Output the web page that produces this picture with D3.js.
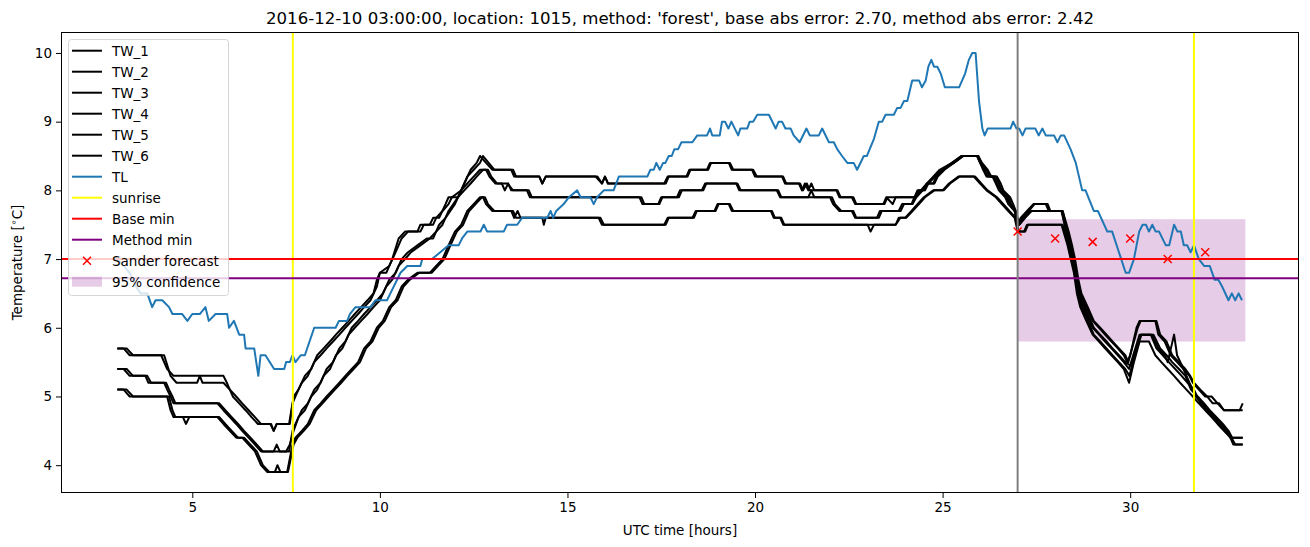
<!DOCTYPE html>
<html><head><meta charset="utf-8">
<script src="https://cdn.jsdelivr.net/npm/d3@7"></script>
<style>body{margin:0;background:#fff} text{font-family:"DejaVu Sans",sans-serif;fill:#000}</style>
</head><body><svg id="c" width="1310" height="547"></svg>
<script>
// ---------------- data (hours since 2016-12-09 00:00 UTC, temperature °C) ----------------
const titleText = "2016-12-10 03:00:00, location: 1015, method: 'forest', base abs error: 2.70, method abs error: 2.42";
const xTicks = [5, 10, 15, 20, 25, 30];
const yTicks = [4, 5, 6, 7, 8, 9, 10];

const TW_1 = [[3,5.7],[3.17,5.7],[3.33,5.6],[4.17,5.6],[4.33,5.4],[4.5,5.3],[5.83,5.3],[5.92,5.2],[6.0,5.1],[6.17,5.0],[6.33,4.9],[6.5,4.8],[6.67,4.7],[6.83,4.6],[7.08,4.6],[7.17,4.5],[7.25,4.6],[7.58,4.6],[7.67,4.9],[7.75,5.0],[7.83,5.1],[8.0,5.3],[8.17,5.4],[8.33,5.6],[8.5,5.7],[8.67,5.8],[8.83,5.9],[9.0,6.0],[9.17,6.1],[9.33,6.2],[9.5,6.3],[9.67,6.4],[9.83,6.5],[9.92,6.7],[10.0,6.8],[10.17,6.8],[10.33,7.0],[10.5,7.3],[10.67,7.4],[11.0,7.4],[11.08,7.5],[11.33,7.5],[11.42,7.6],[11.58,7.6],[11.75,7.8],[11.83,7.9],[12.08,7.9],[12.25,8.1],[12.42,8.3],[12.58,8.4],[12.67,8.5],[12.83,8.4],[13.0,8.3],[13.5,8.3],[13.58,8.2],[14.25,8.2],[14.33,8.1],[14.42,8.2],[15.75,8.2],[15.92,8.1],[16.0,8.2],[16.08,8.1],[17.58,8.1],[17.67,8.2],[18.17,8.2],[18.25,8.3],[18.75,8.3],[18.83,8.4],[19.33,8.4],[19.42,8.3],[19.92,8.3],[20.0,8.2],[20.75,8.2],[20.83,8.1],[21.17,8.1],[21.25,8.0],[21.33,8.1],[21.42,8.0],[21.5,8.1],[21.58,8.0],[22.17,8.0],[22.25,7.9],[22.58,7.9],[22.67,7.8],[23.42,7.8],[23.5,7.9],[23.67,7.8],[23.75,7.9],[24.25,7.9],[24.33,8.0],[24.5,8.0],[24.58,8.1],[24.75,8.1],[24.83,8.2],[25.0,8.3],[25.25,8.4],[25.5,8.5],[25.92,8.5],[26.0,8.4],[26.08,8.3],[26.17,8.2],[26.33,8.2],[26.42,8.1],[26.5,8.0],[26.67,7.9],[26.75,7.8],[26.92,7.7],[27.0,7.5],[27.08,7.6],[27.25,7.7],[27.42,7.8],[27.75,7.8],[27.83,7.7],[28.17,7.7],[28.33,7.4],[28.42,7.2],[28.5,7.0],[28.58,6.7],[28.67,6.5],[28.83,6.3],[29.0,6.1],[29.17,6.0],[29.33,5.9],[29.5,5.8],[29.67,5.7],[29.83,5.6],[29.92,5.5],[30.0,5.6],[30.17,6.0],[30.25,6.1],[30.67,6.1],[30.75,5.9],[30.92,5.8],[31.08,5.6],[31.25,5.5],[31.42,5.4],[31.58,5.3],[31.67,5.2],[31.83,5.1],[32.0,5.0],[32.17,5.0],[32.33,4.9],[32.5,4.8],[32.92,4.8],[33.0,4.9]];

const TW_2 = [[3,5.7],[3.25,5.7],[3.42,5.6],[4.25,5.6],[4.42,5.3],[4.58,5.2],[5.13,5.2],[5.2,5.3],[5.27,5.2],[5.83,5.2],[6.0,5.1],[6.08,5.0],[6.25,4.9],[6.42,4.8],[6.58,4.7],[6.75,4.6],[7.1,4.6],[7.17,4.5],[7.25,4.6],[7.6,4.6],[7.7,5.0],[7.83,5.1],[7.92,5.2],[8.08,5.3],[8.25,5.5],[8.42,5.6],[8.58,5.7],[8.75,5.8],[8.92,5.9],[9.08,6.0],[9.25,6.1],[9.42,6.2],[9.58,6.3],[9.75,6.4],[9.92,6.6],[10.0,6.8],[10.25,6.9],[10.42,7.1],[10.58,7.3],[10.75,7.4],[11.08,7.4],[11.17,7.5],[11.42,7.5],[11.5,7.6],[11.67,7.7],[11.83,7.8],[11.92,7.9],[12.17,8.0],[12.33,8.2],[12.5,8.3],[12.67,8.4],[12.75,8.5],[12.9,8.4],[13.05,8.3],[13.55,8.3],[13.63,8.2],[14.25,8.2],[14.33,8.1],[14.42,8.2],[15.8,8.2],[15.92,8.1],[16.0,8.2],[16.08,8.1],[17.62,8.1],[17.7,8.2],[18.2,8.2],[18.28,8.3],[18.72,8.3],[18.8,8.4],[19.3,8.4],[19.38,8.3],[19.95,8.3],[20.05,8.2],[20.72,8.2],[20.8,8.1],[21.2,8.1],[21.28,8.0],[21.38,8.1],[21.46,8.0],[22.2,8.0],[22.28,7.9],[22.62,7.9],[22.7,7.8],[23.45,7.8],[23.53,7.9],[24.28,7.9],[24.37,8.0],[24.53,8.0],[24.62,8.1],[24.78,8.1],[24.87,8.2],[25.05,8.3],[25.3,8.4],[25.55,8.5],[25.95,8.5],[26.03,8.4],[26.12,8.3],[26.2,8.2],[26.37,8.2],[26.45,8.1],[26.55,8.0],[26.7,7.9],[26.8,7.8],[26.95,7.7],[27.03,7.5],[27.12,7.6],[27.3,7.7],[27.45,7.8],[27.8,7.8],[27.87,7.7],[28.2,7.7],[28.36,7.4],[28.45,7.2],[28.53,7.0],[28.62,6.7],[28.7,6.5],[28.87,6.3],[29.03,6.1],[29.2,6.0],[29.37,5.9],[29.53,5.8],[29.7,5.7],[29.87,5.6],[29.95,5.5],[30.05,5.7],[30.2,6.0],[30.28,6.1],[30.7,6.1],[30.8,5.9],[30.97,5.8],[31.12,5.6],[31.3,5.5],[31.47,5.4],[31.6,5.3],[31.7,5.2],[31.87,5.1],[32.05,5.0],[32.2,4.9],[32.37,4.9],[32.5,4.8],[33.0,4.8]];

const TW_3 = [[3,5.4],[3.17,5.4],[3.33,5.3],[3.75,5.3],[3.83,5.2],[4.25,5.2],[4.33,5.1],[4.42,5.0],[4.5,4.9],[5.67,4.9],[5.83,4.8],[6.0,4.7],[6.17,4.6],[6.33,4.5],[6.5,4.4],[6.67,4.3],[6.83,4.2],[7.17,4.2],[7.25,4.3],[7.33,4.2],[7.58,4.2],[7.67,4.5],[7.75,4.6],[7.92,4.8],[8.08,4.9],[8.25,5.1],[8.42,5.2],[8.58,5.4],[8.75,5.5],[8.92,5.7],[9.08,5.8],[9.25,6.0],[9.42,6.1],[9.58,6.2],[9.75,6.3],[9.92,6.4],[10.08,6.5],[10.25,6.7],[10.42,6.8],[10.58,7.0],[10.75,7.1],[11.0,7.2],[11.25,7.3],[11.42,7.3],[11.58,7.5],[11.75,7.6],[12.0,7.8],[12.17,8.0],[12.33,8.1],[12.5,8.2],[12.67,8.3],[12.83,8.3],[12.92,8.2],[13.08,8.1],[13.25,8.1],[13.33,8.0],[13.42,8.1],[13.5,8.0],[13.92,8.0],[14.0,7.9],[16.92,7.9],[17.0,7.8],[17.42,7.8],[17.5,7.9],[17.92,7.9],[18.0,8.0],[18.58,8.0],[18.67,8.1],[19.5,8.1],[19.58,8.0],[20.58,8.0],[20.67,7.9],[21.42,7.9],[21.5,8.0],[21.58,7.9],[22.0,7.9],[22.08,7.8],[22.25,7.7],[22.58,7.7],[22.67,7.6],[23.25,7.6],[23.33,7.7],[23.83,7.7],[23.92,7.8],[24.17,7.8],[24.25,7.9],[24.42,8.0],[24.58,8.1],[24.75,8.2],[24.92,8.3],[25.25,8.4],[25.5,8.5],[25.92,8.5],[26.0,8.4],[26.17,8.3],[26.25,8.2],[26.42,8.2],[26.5,8.1],[26.58,8.0],[26.75,7.9],[26.83,7.8],[26.92,7.7],[27.0,7.5],[27.17,7.6],[27.33,7.7],[28.17,7.7],[28.33,7.3],[28.5,6.9],[28.58,6.6],[28.67,6.4],[28.83,6.2],[29.0,6.0],[29.17,5.9],[29.33,5.8],[29.5,5.7],[29.67,5.6],[29.83,5.5],[29.97,5.4],[30.08,5.6],[30.25,5.9],[30.58,5.9],[30.75,5.7],[30.92,5.6],[31.0,5.5],[31.17,5.9],[31.25,5.6],[31.42,5.4],[31.58,5.2],[31.75,5.0],[31.92,4.9],[32.08,4.8],[32.25,4.7],[32.42,4.6],[32.58,4.5],[32.67,4.4],[33.0,4.4]];

const TW_4 = [[3,5.4],[3.25,5.4],[3.42,5.3],[3.8,5.3],[3.9,5.2],[4.3,5.2],[4.38,5.1],[4.47,5.0],[4.55,4.9],[5.72,4.9],[5.88,4.8],[6.05,4.7],[6.22,4.6],[6.38,4.5],[6.55,4.4],[6.72,4.3],[6.88,4.2],[7.5,4.2],[7.6,4.3],[7.7,4.5],[7.83,4.7],[8.0,4.8],[8.17,5.0],[8.33,5.1],[8.5,5.3],[8.67,5.4],[8.83,5.6],[9.0,5.7],[9.17,5.9],[9.33,6.0],[9.5,6.1],[9.67,6.2],[9.83,6.3],[10.0,6.4],[10.17,6.6],[10.33,6.7],[10.5,6.9],[10.67,7.0],[10.83,7.1],[11.08,7.2],[11.33,7.3],[11.5,7.4],[11.67,7.5],[11.83,7.7],[12.08,7.9],[12.25,8.0],[12.42,8.1],[12.58,8.2],[12.75,8.3],[12.88,8.3],[12.97,8.2],[13.12,8.1],[13.4,8.1],[13.55,8.0],[13.97,8.0],[14.05,7.9],[16.97,7.9],[17.05,7.8],[17.45,7.8],[17.53,7.9],[17.97,7.9],[18.05,8.0],[18.62,8.0],[18.7,8.1],[19.53,8.1],[19.62,8.0],[20.62,8.0],[20.7,7.9],[22.05,7.9],[22.13,7.8],[22.3,7.7],[22.62,7.7],[22.7,7.6],[23.3,7.6],[23.38,7.7],[23.88,7.7],[23.97,7.8],[24.2,7.8],[24.3,7.9],[24.47,8.0],[24.62,8.1],[24.8,8.2],[24.97,8.3],[25.3,8.4],[25.55,8.5],[25.95,8.5],[26.05,8.4],[26.2,8.3],[26.3,8.2],[26.45,8.2],[26.55,8.1],[26.62,8.0],[26.8,7.9],[26.88,7.8],[26.95,7.7],[27.05,7.5],[27.2,7.6],[27.37,7.7],[28.2,7.7],[28.37,7.3],[28.53,6.9],[28.62,6.6],[28.7,6.4],[28.87,6.2],[29.03,6.0],[29.2,5.9],[29.37,5.8],[29.53,5.7],[29.7,5.6],[29.87,5.5],[30.0,5.45],[30.12,5.6],[30.3,5.9],[30.62,5.9],[30.8,5.7],[30.97,5.6],[31.12,5.5],[31.3,5.4],[31.47,5.3],[31.62,5.1],[31.8,5.0],[31.97,4.9],[32.12,4.8],[32.3,4.7],[32.47,4.6],[32.62,4.5],[32.72,4.4],[33.0,4.4]];

const TW_5 = [[3,5.1],[3.17,5.1],[3.33,5.0],[4.33,5.0],[4.42,4.8],[4.5,4.7],[4.75,4.7],[4.83,4.6],[4.92,4.7],[5.67,4.7],[5.83,4.6],[6.0,4.5],[6.17,4.4],[6.33,4.4],[6.5,4.3],[6.67,4.2],[6.83,4.0],[7.0,3.9],[7.53,3.9],[7.67,4.3],[7.75,4.4],[7.92,4.5],[8.08,4.6],[8.25,4.8],[8.42,4.9],[8.58,5.0],[8.75,5.1],[8.92,5.2],[9.08,5.3],[9.25,5.4],[9.42,5.5],[9.58,5.7],[9.75,5.8],[9.92,6.0],[10.08,6.1],[10.25,6.3],[10.42,6.4],[10.58,6.6],[10.75,6.7],[11.0,6.8],[11.33,6.8],[11.5,6.9],[11.67,7.0],[11.83,7.2],[12.0,7.4],[12.17,7.5],[12.33,7.7],[12.5,7.8],[12.67,7.9],[12.75,7.9],[12.83,7.8],[13.0,7.7],[13.5,7.7],[13.58,7.6],[13.67,7.7],[13.75,7.6],[14.33,7.6],[14.37,7.5],[14.42,7.6],[15.83,7.6],[15.92,7.5],[17.58,7.5],[17.67,7.6],[18.33,7.6],[18.42,7.7],[18.92,7.7],[19.0,7.8],[19.33,7.8],[19.42,7.7],[20.42,7.7],[20.5,7.6],[20.67,7.6],[20.75,7.5],[23.0,7.5],[23.08,7.4],[23.17,7.5],[23.75,7.5],[23.83,7.6],[24.0,7.6],[24.17,7.7],[24.33,7.8],[24.5,7.9],[24.75,8.0],[25.0,8.0],[25.17,8.1],[25.42,8.2],[25.83,8.2],[26.0,8.1],[26.17,8.0],[26.42,7.9],[26.58,7.8],[26.75,7.7],[26.92,7.6],[27.0,7.4],[27.17,7.4],[27.25,7.5],[28.17,7.5],[28.33,7.2],[28.5,6.8],[28.58,6.5],[28.67,6.3],[28.83,6.1],[29.0,5.9],[29.17,5.8],[29.33,5.7],[29.5,5.6],[29.67,5.5],[29.83,5.4],[29.97,5.2],[30.1,5.5],[30.25,5.8],[30.5,5.8],[30.67,5.6],[30.83,5.5],[31.0,5.4],[31.17,5.3],[31.33,5.2],[31.5,5.1],[31.67,5.0],[31.83,4.9],[32.0,4.8],[32.17,4.7],[32.33,4.6],[32.5,4.5],[32.67,4.4],[32.75,4.3],[33.0,4.3]];

const TW_6 = [[3,5.1],[3.25,5.1],[3.42,5.0],[4.38,5.0],[4.47,4.8],[4.55,4.7],[5.72,4.7],[5.88,4.6],[6.05,4.5],[6.22,4.4],[6.38,4.4],[6.55,4.3],[6.72,4.2],[6.88,4.0],[7.05,3.9],[7.2,3.9],[7.27,4.0],[7.35,3.9],[7.55,3.9],[7.7,4.3],[7.8,4.4],[7.97,4.5],[8.13,4.6],[8.3,4.8],[8.47,4.9],[8.63,5.0],[8.8,5.1],[8.97,5.2],[9.13,5.3],[9.3,5.4],[9.47,5.5],[9.63,5.7],[9.8,5.8],[9.97,6.0],[10.13,6.1],[10.3,6.3],[10.47,6.4],[10.63,6.6],[10.8,6.7],[11.05,6.8],[11.38,6.8],[11.55,6.9],[11.72,7.0],[11.88,7.2],[12.05,7.4],[12.22,7.5],[12.38,7.7],[12.55,7.8],[12.72,7.9],[12.8,7.9],[12.88,7.8],[13.05,7.7],[13.55,7.7],[13.63,7.6],[15.88,7.6],[15.97,7.5],[17.62,7.5],[17.7,7.6],[18.37,7.6],[18.45,7.7],[18.95,7.7],[19.03,7.8],[19.3,7.8],[19.38,7.7],[20.45,7.7],[20.53,7.6],[20.7,7.6],[20.78,7.5],[23.75,7.5],[23.87,7.6],[24.03,7.6],[24.2,7.7],[24.37,7.8],[24.53,7.9],[24.78,8.0],[25.03,8.0],[25.2,8.1],[25.45,8.2],[25.87,8.2],[26.03,8.1],[26.2,8.0],[26.45,7.9],[26.62,7.8],[26.78,7.7],[26.95,7.6],[27.03,7.4],[27.2,7.4],[27.28,7.5],[28.2,7.5],[28.37,7.2],[28.53,6.8],[28.62,6.5],[28.7,6.3],[28.87,6.1],[29.03,5.9],[29.2,5.8],[29.37,5.7],[29.53,5.6],[29.7,5.5],[29.87,5.4],[29.98,5.3],[30.12,5.6],[30.28,5.9],[30.55,5.9],[30.7,5.7],[30.87,5.6],[31.03,5.5],[31.2,5.4],[31.37,5.3],[31.53,5.2],[31.7,5.1],[31.87,4.9],[32.03,4.8],[32.2,4.7],[32.37,4.6],[32.53,4.5],[32.7,4.4],[32.8,4.3],[33.0,4.3]];

const TL = [[3.0,7.0],[3.17,6.9],[3.33,6.8],[3.5,6.6],[3.62,6.5],[3.8,6.5],[3.93,6.3],[4.02,6.4],[4.2,6.4],[4.38,6.3],[4.47,6.2],[4.73,6.2],[4.87,6.1],[5.0,6.2],[5.2,6.2],[5.35,6.3],[5.44,6.1],[5.62,6.2],[5.93,6.2],[5.98,6.0],[6.11,6.1],[6.25,5.9],[6.38,5.9],[6.42,5.7],[6.65,5.7],[6.76,5.3],[6.82,5.6],[6.95,5.6],[7.18,5.4],[7.45,5.4],[7.5,5.5],[7.6,5.5],[7.67,5.6],[7.75,5.5],[7.89,5.6],[8.0,5.6],[8.25,6.0],[8.82,6.0],[8.91,6.1],[9.13,6.1],[9.2,6.2],[9.35,6.3],[9.75,6.3],[9.88,6.4],[10.19,6.4],[10.28,6.5],[10.55,6.8],[10.73,6.9],[11.08,6.9],[11.13,7.0],[11.39,7.0],[11.61,7.1],[11.83,7.2],[12.1,7.2],[12.19,7.3],[12.33,7.4],[12.68,7.4],[12.77,7.5],[12.86,7.4],[13.3,7.4],[13.39,7.5],[13.66,7.5],[13.79,7.6],[14.46,7.6],[14.55,7.7],[14.62,7.6],[14.7,7.7],[14.9,7.8],[15.04,7.9],[15.26,8.0],[15.35,7.9],[15.61,7.9],[15.7,7.8],[15.79,7.9],[15.97,8.0],[16.23,8.0],[16.37,8.2],[17.13,8.2],[17.21,8.3],[17.3,8.3],[17.37,8.4],[17.46,8.3],[17.55,8.4],[17.61,8.4],[17.7,8.5],[17.78,8.5],[17.85,8.6],[17.95,8.6],[18.04,8.7],[18.33,8.7],[18.46,8.8],[18.72,8.8],[18.8,8.9],[18.86,8.8],[19.06,8.8],[19.12,9.0],[19.2,9.0],[19.29,8.9],[19.37,9.0],[19.55,8.8],[19.61,8.9],[19.79,8.9],[19.86,9.0],[19.95,9.0],[20.06,9.1],[20.37,9.1],[20.55,8.9],[20.63,9.0],[20.72,9.0],[20.81,8.9],[20.95,8.9],[21.03,8.8],[21.19,8.7],[21.37,8.9],[21.46,8.8],[21.7,8.8],[21.79,8.9],[21.97,8.7],[22.1,8.7],[22.19,8.6],[22.32,8.5],[22.46,8.4],[22.63,8.4],[22.72,8.3],[22.9,8.5],[22.98,8.5],[23.17,8.75],[23.3,9.0],[23.39,9.0],[23.48,9.1],[23.7,9.1],[23.79,9.2],[23.88,9.2],[23.97,9.3],[24.06,9.3],[24.19,9.6],[24.37,9.6],[24.45,9.5],[24.55,9.6],[24.62,9.8],[24.7,9.9],[24.77,9.8],[24.86,9.8],[24.95,9.7],[25.06,9.5],[25.44,9.5],[25.6,9.7],[25.7,9.9],[25.79,10.0],[25.88,10.0],[25.97,9.3],[26.06,8.9],[26.12,8.8],[26.2,8.9],[26.81,8.9],[26.88,9.0],[26.97,8.9],[27.04,8.9],[27.13,8.8],[27.21,8.9],[27.47,8.9],[27.56,8.8],[27.66,8.9],[27.75,8.8],[27.97,8.8],[28.06,8.7],[28.15,8.8],[28.24,8.8],[28.41,8.6],[28.55,8.4],[28.72,8.0],[28.81,8.0],[29.03,7.7],[29.14,7.7],[29.39,7.4],[29.52,7.4],[29.7,7.1],[29.88,6.8],[29.97,6.8],[30.1,7.0],[30.24,7.4],[30.33,7.5],[30.42,7.5],[30.5,7.4],[30.59,7.5],[30.68,7.4],[30.77,7.4],[30.95,7.2],[31.04,7.2],[31.17,7.5],[31.26,7.4],[31.35,7.4],[31.43,7.2],[31.52,7.2],[31.61,7.1],[31.7,7.2],[31.83,7.0],[31.97,6.9],[32.12,6.9],[32.25,6.7],[32.35,6.7],[32.45,6.6],[32.62,6.4],[32.71,6.5],[32.8,6.4],[32.89,6.5],[32.98,6.4]];

const sunriseHours = [7.68, 31.7];
const forecastHour = 27;
const baseMin = 7.0;
const methodMin = 6.72;
const sanderHours = [27, 28, 29, 30, 31, 32];
const sanderValues = [7.4, 7.3, 7.25, 7.3, 7.0, 7.1];
const confHours = [27, 33.07];
const confLow = 5.8, confHigh = 7.58;
const twNames = ["TW_1","TW_2","TW_3","TW_4","TW_5","TW_6"];
const twSeries = [TW_1, TW_2, TW_3, TW_4, TW_5, TW_6];

// ---------------- layout ----------------
const W = 1310, H = 547, L = 61, R = 1299, T = 32, B = 493;
const x = d3.scaleLinear().domain([1.5, 34.5]).range([L, R]);
const y = d3.scaleLinear().domain([3.595, 10.305]).range([B, T]);
const svg = d3.select('#c');
svg.append('rect').attr('width', W).attr('height', H).attr('fill', '#fff');
svg.append('defs').append('clipPath').attr('id', 'clip')
  .append('rect').attr('x', L).attr('y', T).attr('width', R - L).attr('height', B - T);
const g = svg.append('g').attr('clip-path', 'url(#clip)');
const line = d3.line().x(d => x(d[0])).y(d => y(d[1]));

// confidence band (patch, below lines)
g.append('rect').attr('x', x(confHours[0])).attr('width', x(confHours[1]) - x(confHours[0]))
  .attr('y', y(confHigh)).attr('height', y(confLow) - y(confHigh))
  .attr('fill', 'purple').attr('fill-opacity', 0.2);

twSeries.forEach(s => g.append('path').datum(s).attr('d', line)
  .attr('fill', 'none').attr('stroke', '#000').attr('stroke-width', 2).attr('stroke-linejoin', 'round'));
g.append('path').datum(TL).attr('d', line).attr('fill', 'none').attr('stroke', '#1f77b4')
  .attr('stroke-width', 2).attr('stroke-linejoin', 'round');
sunriseHours.forEach(h => g.append('line').attr('x1', x(h)).attr('x2', x(h)).attr('y1', T).attr('y2', B)
  .attr('stroke', 'yellow').attr('stroke-width', 2));
g.append('line').attr('x1', L).attr('x2', R).attr('y1', y(baseMin)).attr('y2', y(baseMin)).attr('stroke', 'red').attr('stroke-width', 2);
g.append('line').attr('x1', L).attr('x2', R).attr('y1', y(methodMin)).attr('y2', y(methodMin)).attr('stroke', 'purple').attr('stroke-width', 2);
g.append('line').attr('x1', x(forecastHour)).attr('x2', x(forecastHour)).attr('y1', T).attr('y2', B)
  .attr('stroke', 'grey').attr('stroke-width', 2);
function xMark(sel, cx, cy) {
  const s = 4;
  sel.append('path').attr('d', `M${cx - s},${cy - s}L${cx + s},${cy + s}M${cx - s},${cy + s}L${cx + s},${cy - s}`)
    .attr('stroke', 'red').attr('stroke-width', 1.5).attr('fill', 'none');
}
sanderHours.forEach((h, i) => xMark(g, x(h), y(sanderValues[i])));

// ---------------- axes ----------------
const xAxis = svg.append('g').attr('transform', `translate(0,${B})`)
  .call(d3.axisBottom(x).tickValues(xTicks).tickSize(5).tickPadding(4).tickFormat(d3.format('d')));
const yAxis = svg.append('g').attr('transform', `translate(${L},0)`)
  .call(d3.axisLeft(y).tickValues(yTicks).tickSize(5).tickPadding(4).tickFormat(d3.format('d')));
[xAxis, yAxis].forEach(a => {
  a.select('.domain').remove();
  a.selectAll('text').attr('font-family', 'DejaVu Sans').attr('font-size', 13.5).attr('fill', '#000');
  a.selectAll('line').attr('stroke', '#000').attr('stroke-width', 1);
});
svg.append('rect').attr('x', L + 0.5).attr('y', T + 0.5).attr('width', R - L - 1).attr('height', B - T - 1)
  .attr('fill', 'none').attr('stroke', '#000').attr('stroke-width', 1);

svg.append('text').attr('x', (L + R) / 2).attr('y', 24).attr('text-anchor', 'middle')
  .attr('font-size', 16.6).text(titleText);
svg.append('text').attr('x', (L + R) / 2).attr('y', 535).attr('text-anchor', 'middle')
  .attr('font-size', 13.5).text('UTC time [hours]');
const yl = svg.append('text').attr('transform', `translate(22,${(T + B) / 2}) rotate(-90)`)
  .attr('text-anchor', 'middle').attr('font-size', 13.5);
yl.append('tspan').text('Temperature [');
yl.append('tspan').attr('font-size', 9.5).attr('dy', -5).text('∘');
yl.append('tspan').attr('dy', 5).text('C]');

// ---------------- legend ----------------
const lg = svg.append('g');
lg.append('rect').attr('x', 68.5).attr('y', 39.5).attr('width', 160).attr('height', 256).attr('rx', 3)
  .attr('fill', '#fff').attr('fill-opacity', 0.8).attr('stroke', '#ccc').attr('stroke-opacity', 0.8);
const entries = twNames.map(n => ({ label: n, type: 'line', color: '#000' })).concat([
  { label: 'TL', type: 'line', color: '#1f77b4' },
  { label: 'sunrise', type: 'line', color: 'yellow' },
  { label: 'Base min', type: 'line', color: 'red' },
  { label: 'Method min', type: 'line', color: 'purple' },
  { label: 'Sander forecast', type: 'x', color: 'red' },
  { label: '95% confidence', type: 'patch', color: 'purple' }
]);
entries.forEach((e, i) => {
  const cy = 50.7 + 21 * i;
  if (e.type === 'line') lg.append('line').attr('x1', 72).attr('x2', 102).attr('y1', cy).attr('y2', cy)
    .attr('stroke', e.color).attr('stroke-width', 2);
  else if (e.type === 'x') xMark(lg, 87, cy);
  else lg.append('rect').attr('x', 72).attr('y', cy - 5).attr('width', 30).attr('height', 10)
    .attr('fill', e.color).attr('fill-opacity', 0.2);
  lg.append('text').attr('x', 112).attr('y', cy + 5).attr('font-size', 13.5).text(e.label);
});
</script></body></html>
